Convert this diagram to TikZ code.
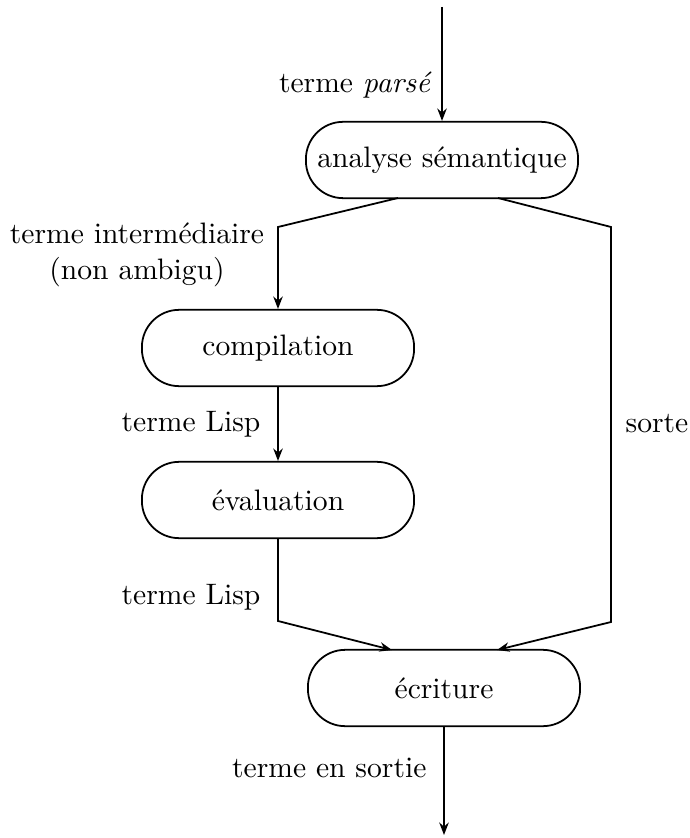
\documentclass[tikz,border=0pt]{standalone}
\usetikzlibrary{arrows.meta,calc}
\begin{document}
\begin{tikzpicture}[x=0.338pt,y=-0.338pt,
  stage/.style={draw,line width=0.6pt,rounded corners=12.6pt,inner sep=0pt,
    minimum width=92pt,minimum height=25.8pt},
  flow/.style={line width=0.6pt,-{Stealth[length=4.2pt,width=3.2pt]}},
  lbl/.style={inner sep=0pt}]
\useasboundingbox (0,0) rectangle (689,838);

% processing stages
\node[stage] (an) at (442,160) {analyse sémantique};
\node[stage] (co) at (278,348) {compilation};
\node[stage] (ev) at (278,500) {évaluation};
\node[stage] (ec) at (444,688) {écriture};

% free ends and bend points
\coordinate (in) at (442,7);
\coordinate (out) at (444,835);
\coordinate (anL) at (398,198);
\coordinate (anR) at (498,198);
\coordinate (bL) at (278,227);
\coordinate (bR) at (611,227);
\coordinate (cR) at (611,622);
\coordinate (cL) at (278,621);
\coordinate (ecL) at (392,650);
\coordinate (ecR) at (497,650);

% connectors
\draw[flow] (in) -- (an);
\draw[flow] (anL) -- (bL) -- (co);
\draw[flow] (co) -- (ev);
\draw[flow] (ev) -- (cL) -- (ecL);
\draw[flow] (anR) -- (bR) -- (cR) -- (ecR);
\draw[flow] (ec) -- (out);

% labels
\node[lbl,anchor=east] (l1) at (432,85) {terme \textit{parsé}};
\node[lbl,align=center] (l2) at (137,255) {terme intermédiaire\\(non ambigu)};
\node[lbl,anchor=east] (l3) at (261,424) {terme Lisp};
\node[lbl,anchor=west] (l4) at (625,424) {sorte};
\node[lbl,anchor=east] (l5) at (261,597) {terme Lisp};
\node[lbl,anchor=east] (l6) at (427,768) {terme en sortie};
\end{tikzpicture}
\end{document}
